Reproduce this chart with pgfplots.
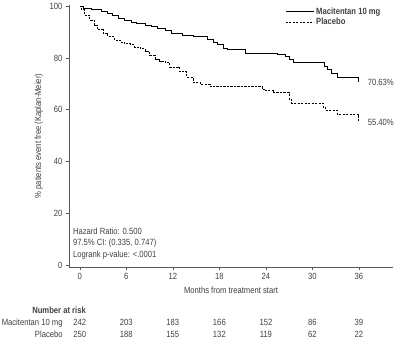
\documentclass[border=0pt]{standalone}
\usepackage{fontspec}
\setmainfont{Liberation Sans}[FakeStretch=0.85]
\usepackage{pgfplots}
\pgfplotsset{compat=1.18}
\definecolor{txt}{gray}{0.25}
\newcommand{\ff}{\fontsize{9bp}{11.5bp}\selectfont}

% Kaplan-Meier estimates (months, % event free)
\pgfplotstableread{
x y
0 100
0.4 99.2
1.5 98.8
2.8 98.1
3.5 97.3
4.2 96.5
5.0 95.4
5.8 94.6
6.6 93.8
7.3 93.1
8.4 92.7
9.3 92.0
10.0 91.2
11.0 90.4
11.8 89.6
13.3 88.8
14.6 88.1
16.5 87.3
17.2 86.1
17.8 85.0
18.5 83.8
19.0 83.1
21.3 81.9
25.5 81.5
26.5 80.4
27.1 79.6
27.5 78.1
31.6 76.9
32.0 75.4
32.5 74.2
33.2 72.3
36.0 70.63
}\maci
\pgfplotstableread{
x y
0 100
0.2 98.5
0.6 96.5
1.3 94.6
1.9 92.7
2.3 90.8
3.0 89.6
3.6 88.2
4.5 86.9
5.2 86.1
5.8 85.4
6.5 85.0
7.1 84.2
7.8 83.5
8.4 82.5
9.0 81.0
9.7 79.6
10.3 78.8
11.0 78.1
11.6 76.5
12.9 74.6
13.8 72.5
14.6 70.6
15.5 69.8
16.8 69.0
23.5 67.9
24.0 67.3
25.0 66.5
27.0 64.0
27.3 62.5
31.4 61.0
31.7 59.8
33.2 58.3
36.0 55.40
}\plac

\begin{document}
\begin{tikzpicture}[x=1bp,y=1bp]
\path[use as bounding box] (0,0) rectangle (400,344);
\begin{axis}[
  at={(69bp,77bp)}, anchor=south west,
  scale only axis, width=324bp, height=262bp,
  xmin=-1.4, xmax=40.4, ymin=-0.6, ymax=100.4,
  axis lines=left, axis line style={-, black!65, line width=0.6bp},
  xtick={0,6,...,36}, ytick={0,20,...,100},
  tick align=outside, major tick length=3bp,
  tick style={black!65, line width=0.6bp},
  tick label style={font=\ff, text=txt},
  /pgf/number format/assume math mode=true,
  xlabel={Months from treatment start},
  ylabel={\% patients event free (Kaplan-Meier)},
  label style={font=\ff, text=txt},
  clip=false,
  legend style={at={(0.667,0.998)}, anchor=north west, draw=none, fill=none,
    font=\ff\bfseries, text=txt, inner sep=0pt, row sep=-1.5bp},
  legend cell align=left,
  legend image code/.code={\draw[#1] (0bp,0bp) -- (28bp,0bp);},
]
\addplot[const plot, black, line width=0.9bp] table {\maci};
\addlegendentry{Macitentan 10 mg}
\addplot[const plot, black, line width=0.9bp, dash pattern=on 2.2bp off 1.3bp] table {\plac};
\addlegendentry{Placebo}

\node[anchor=west, font=\ff, text=txt] at (axis cs:36.7,70.4) {70.63\%};
\node[anchor=west, font=\ff, text=txt] at (axis cs:36.7,55.2) {55.40\%};

\node[anchor=north west, align=left, font=\ff, text=txt, inner sep=0pt]
  at (axis cs:-0.9,14.6) {Hazard Ratio: 0.500\\97.5\% CI: (0.335, 0.747)\\Logrank p-value: <.0001};

% number at risk table
\node[anchor=east, font=\ff\bfseries, text=txt, inner sep=0pt] at (axis cs:0.8,-17.1) {Number at risk};
\node[anchor=east, font=\ff, text=txt, inner sep=0pt] at (axis cs:-2.2,-22.1) {Macitentan 10 mg};
\node[anchor=east, font=\ff, text=txt, inner sep=0pt] at (axis cs:-2.2,-26.7) {Placebo};
\node[font=\ff, text=txt, inner sep=0pt] at (axis cs:0,-22.1) {242};
\node[font=\ff, text=txt, inner sep=0pt] at (axis cs:6,-22.1) {203};
\node[font=\ff, text=txt, inner sep=0pt] at (axis cs:12,-22.1) {183};
\node[font=\ff, text=txt, inner sep=0pt] at (axis cs:18,-22.1) {166};
\node[font=\ff, text=txt, inner sep=0pt] at (axis cs:24,-22.1) {152};
\node[font=\ff, text=txt, inner sep=0pt] at (axis cs:30,-22.1) {86};
\node[font=\ff, text=txt, inner sep=0pt] at (axis cs:36,-22.1) {39};
\node[font=\ff, text=txt, inner sep=0pt] at (axis cs:0,-26.7) {250};
\node[font=\ff, text=txt, inner sep=0pt] at (axis cs:6,-26.7) {188};
\node[font=\ff, text=txt, inner sep=0pt] at (axis cs:12,-26.7) {155};
\node[font=\ff, text=txt, inner sep=0pt] at (axis cs:18,-26.7) {132};
\node[font=\ff, text=txt, inner sep=0pt] at (axis cs:24,-26.7) {119};
\node[font=\ff, text=txt, inner sep=0pt] at (axis cs:30,-26.7) {62};
\node[font=\ff, text=txt, inner sep=0pt] at (axis cs:36,-26.7) {22};
\end{axis}
\end{tikzpicture}
\end{document}
